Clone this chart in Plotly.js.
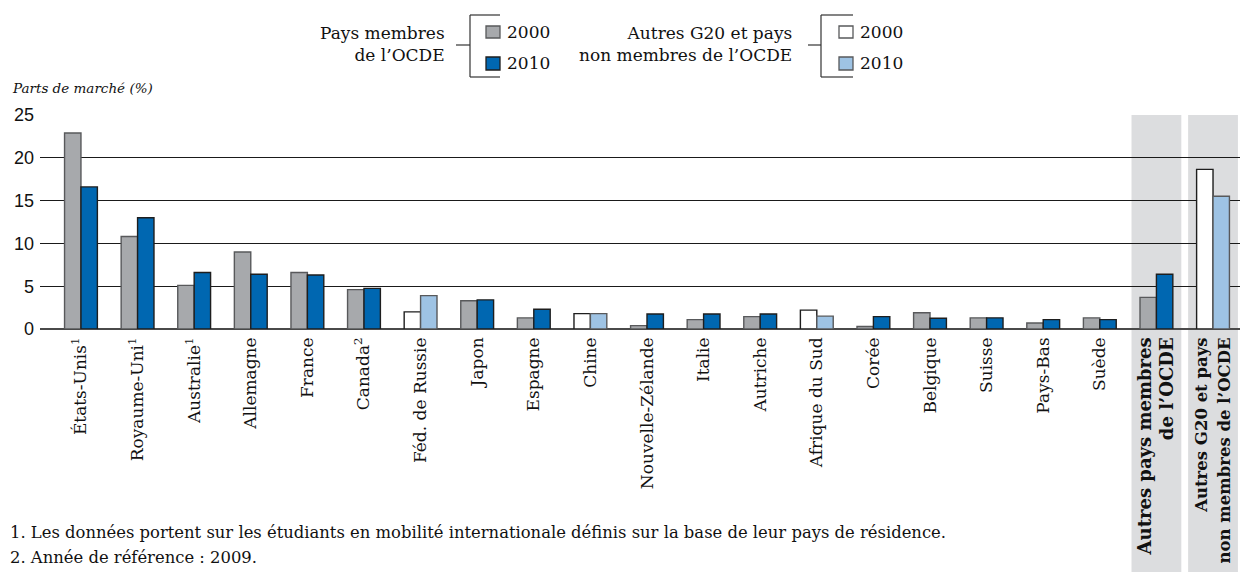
<!DOCTYPE html>
<html>
<head>
<meta charset="utf-8">
<script src="https://cdn.plot.ly/plotly-3.0.1.min.js"></script>
<style>html,body{margin:0;padding:0;background:#fff;}#chart{width:1248px;height:572px;}</style>
</head>
<body>
<div id="chart"></div>
<script>
// ---- data ----
var categories = [
  "États-Unis<sup>1</sup>", "Royaume-Uni<sup>1</sup>", "Australie<sup>1</sup>", "Allemagne", "France",
  "Canada<sup>2</sup>", "Féd. de Russie", "Japon", "Espagne", "Chine", "Nouvelle-Zélande", "Italie",
  "Autriche", "Afrique du Sud", "Corée", "Belgique", "Suisse", "Pays-Bas", "Suède",
  "<span style=\"font-size:18px\"><b>Autres pays membres</b><br><b>de l’OCDE</b></span>",
  "<span style=\"font-size:16.5px\"><b>Autres G20 et pays</b><br><b>non membres de l’OCDE</b></span>"
];
var share2000 = [22.9, 10.8, 5.1, 9.0, 6.6, 4.6, 2.0, 3.3, 1.3, 1.8, 0.4, 1.1, 1.45, 2.2, 0.3, 1.9, 1.3, 0.7, 1.3, 3.7, 18.65];
var share2010 = [16.6, 13.0, 6.6, 6.4, 6.3, 4.75, 3.9, 3.4, 2.3, 1.8, 1.75, 1.75, 1.75, 1.5, 1.45, 1.25, 1.3, 1.1, 1.1, 6.4, 15.5];
var oecdMember = [1, 1, 1, 1, 1, 1, 0, 1, 1, 0, 1, 1, 1, 0, 1, 1, 1, 1, 1, 1, 0];
var shadedGroups = [19, 20];
var yTicks = [0, 5, 10, 15, 20, 25];

// ---- styles ----
var C_GRAY = '#a7a9ac', C_BLUE = '#0067b1', C_LBLUE = '#9ec3e4', C_WHITE = '#ffffff';
var L_GRAY = '#58595b', L_DARK = '#1e1e1e';
var SERIF = 'DejaVu Serif, Liberation Serif, serif';
var SANS = 'Liberation Sans, Arial, sans-serif';

var fill2000 = oecdMember.map(function (m) { return m ? C_GRAY : C_WHITE; });
var line2000 = oecdMember.map(function (m) { return m ? L_GRAY : L_DARK; });
var fill2010 = oecdMember.map(function (m) { return m ? C_BLUE : C_LBLUE; });
var line2010 = oecdMember.map(function (m) { return m ? L_DARK : L_GRAY; });

var traces = [
  { type: 'bar', name: '2000', x: categories, y: share2000,
    marker: { color: fill2000, line: { color: line2000, width: 1.4 } }, hoverinfo: 'y' },
  { type: 'bar', name: '2010', x: categories, y: share2010,
    marker: { color: fill2010, line: { color: line2010, width: 1.4 } }, hoverinfo: 'y' }
];

// pixel helpers (plot area: x 40..1240, y 115..329)
var L = 40, R = 8, T = 115, B = 243, W = 1248, H = 572;
var PW = W - L - R, PH = H - T - B;
function px(x) { return (x - L) / PW; }
function py(y) { return (H - B - y) / PH; }

var shapes = [];
// shaded group backgrounds
shadedGroups.forEach(function (i) {
  shapes.push({ type: 'rect', layer: 'below', xref: 'x', yref: 'paper',
    x0: i - 0.44, x1: i + 0.44, y0: py(H), y1: 1,
    fillcolor: '#dcdddf', line: { width: 0 } });
});
function seg(x0, y0, x1, y1) {
  shapes.push({ type: 'line', xref: 'paper', yref: 'paper',
    x0: px(x0), y0: py(y0), x1: px(x1), y1: py(y1),
    line: { color: '#333333', width: 1.2 } });
}
function sq(x0, y0, x1, y1, fill, lc) {
  shapes.push({ type: 'rect', xref: 'paper', yref: 'paper',
    x0: px(x0), y0: py(y0), x1: px(x1), y1: py(y1),
    fillcolor: fill, line: { color: lc, width: 1.3 } });
}
// legend 1 bracket
seg(456, 45, 470, 45); seg(470, 15, 470, 77); seg(470, 15, 500, 15); seg(470, 77, 500, 77);
sq(486, 26, 500, 38, C_GRAY, L_GRAY);
sq(486, 57, 500, 70, C_BLUE, L_DARK);
// legend 2 bracket
seg(808, 45, 821, 45); seg(821, 15, 821, 77); seg(821, 15, 853, 15); seg(821, 77, 853, 77);
sq(839, 26, 853, 38, C_WHITE, L_GRAY);
sq(839, 57, 853, 70, C_LBLUE, L_GRAY);

function ann(text, x, y, xanchor, size, extra) {
  var a = { text: text, xref: 'paper', yref: 'paper', x: px(x), y: py(y),
    xanchor: xanchor, yanchor: 'middle', showarrow: false, align: xanchor === 'right' ? 'right' : 'left',
    font: { family: SERIF, size: size, color: '#111' } };
  if (extra) for (var k in extra) a[k] = extra[k];
  return a;
}
var annotations = [
  ann('Pays membres<br>de l’OCDE', 447, 44, 'right', 17),
  ann('2000', 505, 32, 'left', 17),
  ann('2010', 505, 63, 'left', 17),
  ann('Autres G20 et pays<br>non membres de l’OCDE', 794, 44, 'right', 17),
  ann('2000', 858, 32, 'left', 17),
  ann('2010', 858, 63, 'left', 17),
  ann('<i>Parts de marché (%)</i>', 10, 88, 'left', 13.5),
  ann('1. Les données portent sur les étudiants en mobilité internationale définis sur la base de leur pays de résidence.', 8, 532, 'left', 16.4),
  ann('2. Année de référence : 2009.', 8, 557, 'left', 16.4)
];

var layout = {
  width: W, height: H,
  margin: { l: L, r: R, t: T, b: B, pad: 0 },
  paper_bgcolor: '#ffffff', plot_bgcolor: 'rgba(0,0,0,0)',
  barmode: 'group', bargap: 0.42, bargroupgap: 0,
  showlegend: false,
  font: { family: SERIF, color: '#111' },
  xaxis: {
    type: 'category', range: [-0.7237, 20.4766], tickangle: -90,
    showgrid: false, showline: false, zeroline: false, ticks: '',
    tickfont: { family: SERIF, size: 17, color: '#111' },
    ticklabelstandoff: 4, fixedrange: true
  },
  yaxis: {
    range: [0, 25], tickvals: yTicks, ticktext: yTicks.map(String),
    showgrid: true, gridcolor: '#1a1a1a', gridwidth: 1.2,
    zeroline: true, zerolinecolor: '#4a4a4a', zerolinewidth: 2,
    showline: false, ticks: '',
    tickfont: { family: SANS, size: 18, color: '#111' },
    ticklabelstandoff: 5, fixedrange: true
  },
  shapes: shapes,
  annotations: annotations
};

Plotly.newPlot('chart', traces, layout, { displayModeBar: false, staticPlot: true });
</script>
</body>
</html>
